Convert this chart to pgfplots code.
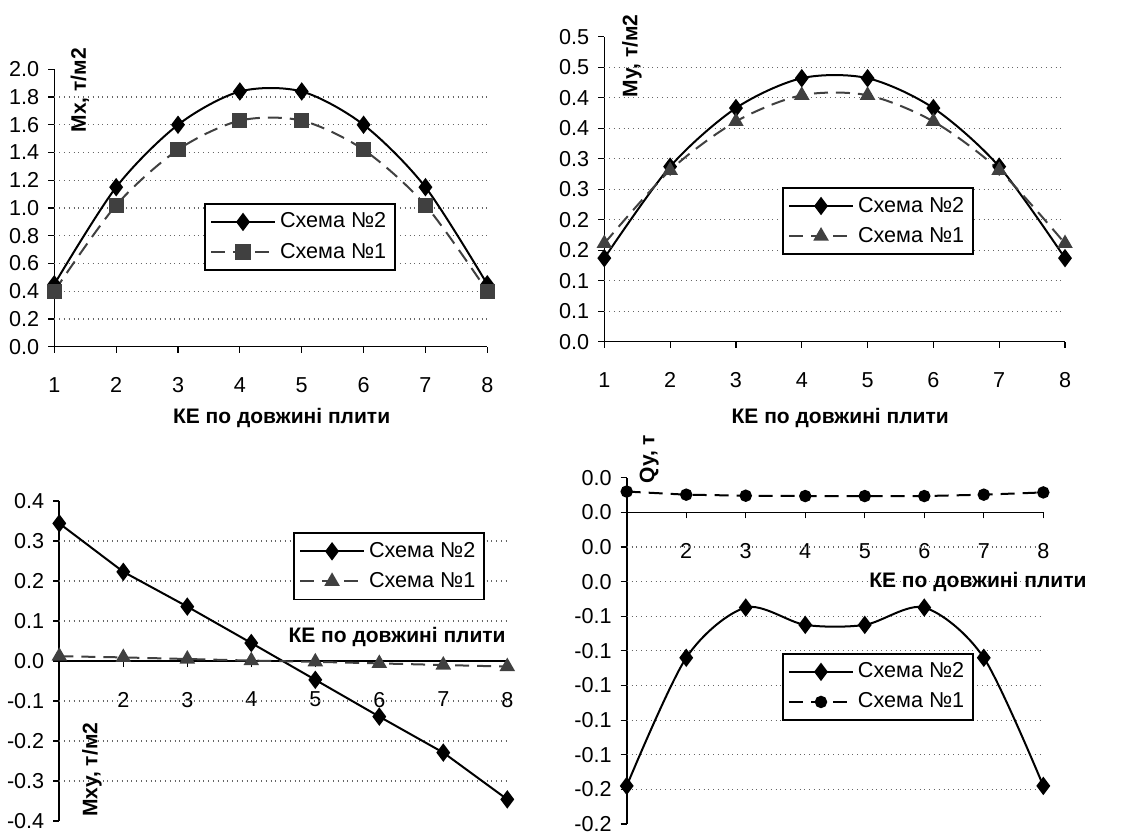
\documentclass[border=0pt]{standalone}
\usepackage{fontspec}
\setmainfont{Liberation Sans}
\usepackage{pgfplots}
\pgfplotsset{compat=1.18}

\pgfplotsset{
 excel/.style={
  scale only axis,
  clip=false,
  xmin=1, xmax=8,
  xtick={1,2,3,4,5,6,7,8},
  tick align=outside,
  major tick length=3pt,
  tick style={black, line width=0.6pt},
  axis line style={black, line width=0.8pt},
  every tick label/.append style={font=\fontsize{10.8}{12}\selectfont},
  /pgf/number format/assume math mode=true,
  xticklabel style={yshift=-9pt},
  yticklabel style={xshift=-1pt},
  legend style={font=\fontsize{10.8}{12}\selectfont, draw=black, line width=0.9pt, inner sep=2.5pt, row sep=2pt},
  legend cell align=left,
  legend image code/.code={\draw[mark repeat=2,mark phase=2] plot coordinates {(0pt,0pt) (16pt,0pt) (32pt,0pt)};},
  extra y tick style={grid=major, major tick length=0pt},
  grid style={dotted, black!60, line width=0.6pt},
 },
 s2/.style={black, line width=1pt, mark=diamond*, mark size=3.8pt, mark options={solid}},
 s1/.style={black!75, line width=1pt, dash pattern=on 7pt off 4pt, mark options={solid}},
}
\newcommand{\lab}{\fontsize{10.5}{12}\selectfont\bfseries}

\begin{document}
\begin{tikzpicture}
\useasboundingbox (0,0) rectangle (564pt,417.5pt);

% ---------- Mx ----------
\begin{axis}[excel, at={(27.15pt,244.15pt)}, anchor=south west,
  width=216.5pt, height=138.7pt, axis lines*=left,
  ymin=0, ymax=2,
  ytick={0,0.2,0.4,0.6,0.8,1.0,1.2,1.4,1.6,1.8,2.0},
  yticklabels={0.0,0.2,0.4,0.6,0.8,1.0,1.2,1.4,1.6,1.8,2.0},
  extra y ticks={0.2,0.4,0.6,0.8,1.0,1.2,1.4,1.6,1.8}, extra y tick labels={},
  legend style={at={(axis description cs:0.346,0.518)}, anchor=north west},
]
\addplot[s2, smooth] coordinates {(1,0.45)(2,1.15)(3,1.60)(4,1.84)(5,1.84)(6,1.60)(7,1.15)(8,0.45)};
\addlegendentry{Схема №2}
\addplot[s1, smooth, mark=square*, mark size=3.3pt] coordinates {(1,0.40)(2,1.02)(3,1.42)(4,1.63)(5,1.63)(6,1.42)(7,1.02)(8,0.40)};
\addlegendentry{Схема №1}
\node[rotate=90, font=\lab] at (axis description cs:0.059,0.925) {Mx, т/м2};
\node[font=\lab] at (axis description cs:0.525,-0.258) {КЕ по довжині плити};
\end{axis}

% ---------- My ----------
\begin{axis}[excel, at={(302.15pt,246.65pt)}, anchor=south west,
  width=230.35pt, height=152.5pt, axis lines*=left,
  ymin=0, ymax=0.5,
  ytick={0,0.05,0.1,0.15,0.2,0.25,0.3,0.35,0.4,0.45,0.5},
  yticklabels={0.0,0.1,0.1,0.2,0.2,0.3,0.3,0.4,0.4,0.5,0.5},
  extra y ticks={0.05,0.1,0.15,0.2,0.25,0.3,0.35,0.4,0.45}, extra y tick labels={},
  legend style={at={(axis description cs:0.386,0.507)}, anchor=north west},
]
\addplot[s2, smooth] coordinates {(1,0.137)(2,0.287)(3,0.383)(4,0.432)(5,0.432)(6,0.383)(7,0.287)(8,0.137)};
\addlegendentry{Схема №2}
\addplot[s1, smooth, mark=triangle*, mark size=3.5pt] coordinates {(1,0.161)(2,0.281)(3,0.361)(4,0.404)(5,0.404)(6,0.361)(7,0.281)(8,0.161)};
\addlegendentry{Схема №1}
\node[rotate=90, font=\lab] at (axis description cs:0.060,0.937) {My, т/м2};
\node[font=\lab] at (axis description cs:0.512,-0.250) {КЕ по довжині плити};
\end{axis}

% ---------- Mxy ----------
\begin{axis}[excel, at={(29.65pt,7pt)}, anchor=south west,
  width=224pt, height=160pt, axis x line*=middle, axis y line*=left,
  ymin=-0.4, ymax=0.4,
  ytick={-0.4,-0.3,-0.2,-0.1,0,0.1,0.2,0.3,0.4},
  yticklabels={-0.4,-0.3,-0.2,-0.1,0.0,0.1,0.2,0.3,0.4},
  extra y ticks={-0.3,-0.2,-0.1,0.1,0.2,0.3}, extra y tick labels={},
  legend style={at={(axis description cs:0.522,0.902)}, anchor=north west},
]
\addplot[s2] coordinates {(1,0.344)(2,0.223)(3,0.136)(4,0.045)(5,-0.047)(6,-0.139)(7,-0.229)(8,-0.346)};
\addlegendentry{Схема №2}
\addplot[s1, mark=triangle*, mark size=3.5pt] coordinates {(1,0.012)(2,0.009)(3,0.005)(4,0.001)(5,-0.002)(6,-0.006)(7,-0.010)(8,-0.014)};
\addlegendentry{Схема №1}
\node[rotate=90, font=\lab] at (axis description cs:0.073,0.16) {Mxy, т/м2};
\node[font=\lab] at (axis description cs:0.754,0.574) {КЕ по довжині плити};
\end{axis}

% ---------- Qy ----------
\begin{axis}[excel, at={(313.35pt,5.5pt)}, anchor=south west,
  width=208.3pt, height=173.15pt, axis x line*=middle, axis y line*=left,
  ymin=-0.18, ymax=0.02,
  ytick={-0.18,-0.16,-0.14,-0.12,-0.1,-0.08,-0.06,-0.04,-0.02,0,0.02},
  yticklabels={-0.2,-0.2,-0.1,-0.1,-0.1,-0.1,-0.1,0.0,0.0,0.0,0.0},
  extra y ticks={-0.16,-0.14,-0.12,-0.1,-0.08,-0.06,-0.04,-0.02}, extra y tick labels={},
  legend style={at={(axis description cs:0.373,0.494)}, anchor=north west},
]
\addplot[s2, smooth] coordinates {(1,-0.158)(2,-0.084)(3,-0.055)(4,-0.065)(5,-0.065)(6,-0.055)(7,-0.084)(8,-0.158)};
\addlegendentry{Схема №2}
\addplot[s1, black, mark=*, mark size=2.6pt] coordinates {(1,0.0120)(2,0.0102)(3,0.0096)(4,0.0094)(5,0.0094)(6,0.0094)(7,0.0102)(8,0.0115)};
\addlegendentry{Схема №1}
\node[rotate=90, font=\lab] at (axis description cs:0.054,1.054) {Qy, т};
\node[font=\lab] at (axis description cs:0.843,0.699) {КЕ по довжині плити};
\end{axis}
\end{tikzpicture}
\end{document}
